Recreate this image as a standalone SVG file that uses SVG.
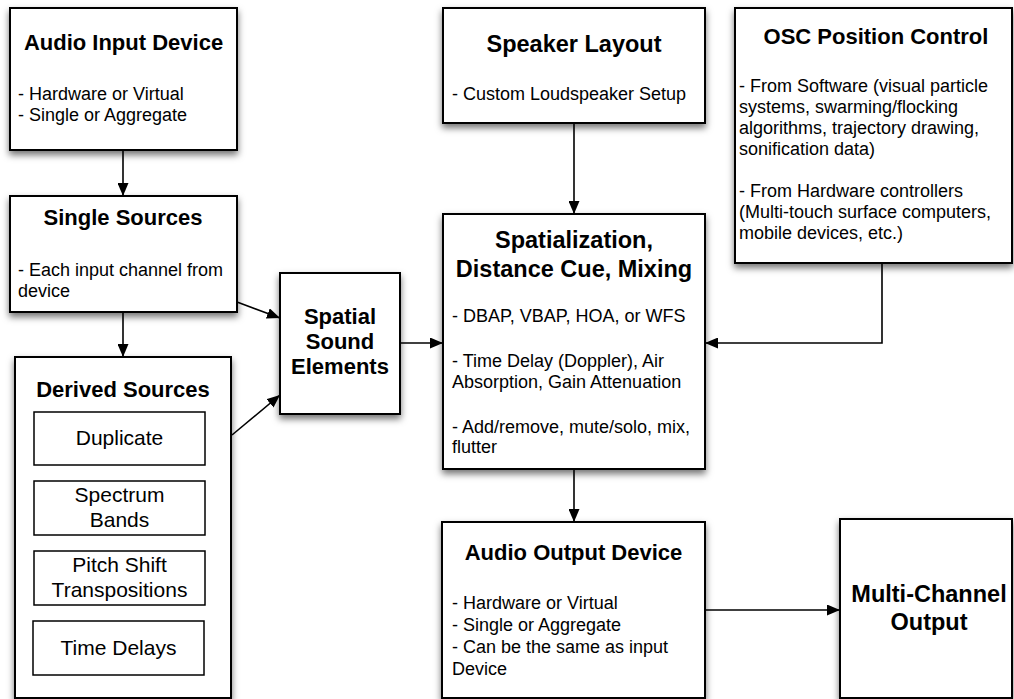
<svg xmlns="http://www.w3.org/2000/svg" width="1014" height="699" viewBox="0 0 1014 699">
<style>
text{font-family:"Liberation Sans",Arial,Helvetica,sans-serif;fill:#000}
.t{font-weight:bold;font-size:22px;text-anchor:middle}
.tl{font-weight:bold;font-size:23.5px;text-anchor:middle}
.b{font-size:18px}
.i{font-size:21px;text-anchor:middle}
.box{fill:#fff;stroke:#000;stroke-width:2;filter:url(#sh)}
.inner{fill:#fff;stroke:#000;stroke-width:1.5}
.c{fill:none;stroke:#000;stroke-width:1.6;marker-end:url(#ah)}
</style>
<defs>
<filter id="sh" x="-20%" y="-20%" width="140%" height="140%">
<feDropShadow dx="0" dy="4" stdDeviation="3.5" flood-color="#000" flood-opacity="0.55"/>
</filter>
<marker id="ah" markerUnits="userSpaceOnUse" markerWidth="13" markerHeight="11" refX="13" refY="5.5" orient="auto">
<path d="M0,0 L13,5.5 L0,11 z" fill="#000"/>
</marker>
</defs>
<rect width="1014" height="699" fill="#fff"/>

<g id="connectors">
<line class="c" x1="123" y1="150" x2="123" y2="196"/>
<line class="c" x1="123" y1="312" x2="123" y2="357"/>
<line class="c" x1="237" y1="302" x2="280" y2="318"/>
<line class="c" x1="232" y1="435" x2="280" y2="395"/>
<line class="c" x1="400" y1="343" x2="443" y2="343"/>
<line class="c" x1="574" y1="123" x2="574" y2="214"/>
<polyline class="c" points="882,263 882,343 705,343"/>
<line class="c" x1="574" y1="469" x2="574" y2="522"/>
<line class="c" x1="705" y1="610" x2="840" y2="610"/>
</g>

<g id="audio-input">
<rect class="box" x="10" y="8" width="227" height="142"/>
<text class="t" x="123.5" y="50">Audio Input Device</text>
<text class="b" x="18" y="100">- Hardware or Virtual</text>
<text class="b" x="18" y="121">- Single or Aggregate</text>
</g>

<g id="single-sources">
<rect class="box" x="10" y="196" width="227" height="116"/>
<text class="t" x="123" y="225">Single Sources</text>
<text class="b" x="18" y="276">- Each input channel from</text>
<text class="b" x="18" y="297">device</text>
</g>

<g id="derived-sources">
<rect class="box" x="15" y="357" width="216" height="341"/>
<text class="t" x="123" y="397">Derived Sources</text>
<g id="duplicate">
<rect class="inner" x="34" y="412" width="171" height="53"/>
<text class="i" x="119.5" y="445">Duplicate</text>
</g>
<g id="spectrum-bands">
<rect class="inner" x="34" y="481" width="171" height="54"/>
<text class="i" x="119.5" y="502">Spectrum</text>
<text class="i" x="119.5" y="527">Bands</text>
</g>
<g id="pitch-shift">
<rect class="inner" x="34" y="551" width="171" height="54"/>
<text class="i" x="119.5" y="572">Pitch Shift</text>
<text class="i" x="119.5" y="597">Transpositions</text>
</g>
<g id="time-delays">
<rect class="inner" x="33" y="621" width="171" height="54"/>
<text class="i" x="118.5" y="655">Time Delays</text>
</g>
</g>

<g id="spatial-sound-elements">
<rect class="box" x="280" y="273" width="120" height="141"/>
<text class="t" x="340" y="324">Spatial</text>
<text class="t" x="340" y="349">Sound</text>
<text class="t" x="340" y="374">Elements</text>
</g>

<g id="speaker-layout">
<rect class="box" x="443" y="8" width="262" height="115"/>
<text class="tl" x="574" y="52">Speaker Layout</text>
<text class="b" x="452" y="100">- Custom Loudspeaker Setup</text>
</g>

<g id="osc-position-control">
<rect class="box" x="735" y="8" width="277" height="255"/>
<text class="t" x="876" y="44">OSC Position Control</text>
<text class="b" x="739" y="92">- From Software (visual particle</text>
<text class="b" x="739" y="113">systems, swarming/flocking</text>
<text class="b" x="739" y="134">algorithms, trajectory drawing,</text>
<text class="b" x="739" y="155">sonification data)</text>
<text class="b" x="739" y="197">- From Hardware controllers</text>
<text class="b" x="739" y="218">(Multi-touch surface computers,</text>
<text class="b" x="739" y="239">mobile devices, etc.)</text>
</g>

<g id="spatialization">
<rect class="box" x="443" y="214" width="262" height="255"/>
<text class="tl" x="574" y="248">Spatialization,</text>
<text class="tl" x="574" y="277">Distance Cue, Mixing</text>
<text class="b" x="452" y="322">- DBAP, VBAP, HOA, or WFS</text>
<text class="b" x="452" y="367">- Time Delay (Doppler), Air</text>
<text class="b" x="452" y="388">Absorption, Gain Attenuation</text>
<text class="b" x="452" y="433">- Add/remove, mute/solo, mix,</text>
<text class="b" x="452" y="453">flutter</text>
</g>

<g id="audio-output">
<rect class="box" x="442" y="522" width="263" height="176"/>
<text class="t" x="573.5" y="560">Audio Output Device</text>
<text class="b" x="452" y="609">- Hardware or Virtual</text>
<text class="b" x="452" y="631">- Single or Aggregate</text>
<text class="b" x="452" y="653">- Can be the same as input</text>
<text class="b" x="452" y="675">Device</text>
</g>

<g id="multi-channel-output">
<rect class="box" x="840" y="519" width="172" height="179"/>
<text class="tl" x="929" y="602">Multi-Channel</text>
<text class="tl" x="929" y="630">Output</text>
</g>
</svg>
